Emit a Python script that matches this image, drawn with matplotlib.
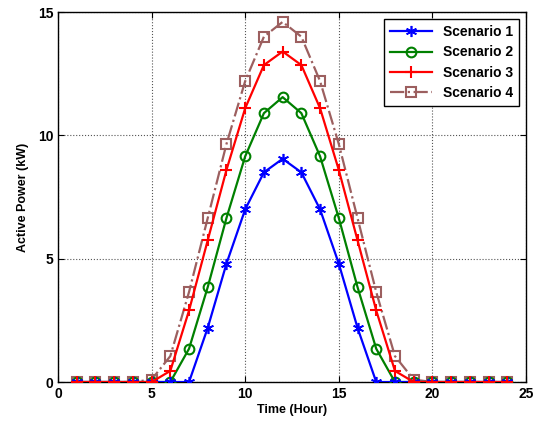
import matplotlib
matplotlib.use("Agg")
import matplotlib.pyplot as plt

hours = list(range(1, 25))
s1 = [0, 0, 0, 0, 0, 0, 0, 2.2, 4.8, 7.0, 8.5, 9.05, 8.5, 7.0, 4.8, 2.2, 0, 0, 0, 0, 0, 0, 0, 0]
s2 = [0, 0, 0, 0, 0, 0, 1.35, 3.85, 6.65, 9.15, 10.9, 11.55, 10.9, 9.15, 6.65, 3.85, 1.35, 0, 0, 0, 0, 0, 0, 0]
s3 = [0, 0, 0, 0, 0, 0.45, 2.9, 5.75, 8.6, 11.1, 12.85, 13.4, 12.85, 11.1, 8.6, 5.75, 2.9, 0.45, 0, 0, 0, 0, 0, 0]
s4 = [0, 0, 0, 0, 0.1, 1.05, 3.65, 6.65, 9.65, 12.2, 14.0, 14.6, 14.0, 12.2, 9.65, 6.65, 3.65, 1.05, 0.1, 0, 0, 0, 0, 0]
labels = ["Scenario 1", "Scenario 2", "Scenario 3", "Scenario 4"]

plt.rcParams['font.family'] = ['Liberation Sans', 'DejaVu Sans']
plt.rcParams['font.weight'] = 'bold'

fig = plt.figure(figsize=(5.34, 4.24), dpi=100)
ax = fig.add_axes([0.1086, 0.099, 0.8764, 0.8726])

brown = '#9c5f5f'
ax.plot(hours, s1, color='blue', lw=1.6, marker=(6, 2, 0), ms=8, mew=1.2, label=labels[0], zorder=4)
ax.plot(hours, s2, color='green', lw=1.6, marker='o', ms=7, mfc='none', mew=1.5, label=labels[1], zorder=3)
ax.plot(hours, s3, color='red', lw=1.6, marker='+', ms=9, mew=1.5, label=labels[2], zorder=5)
ax.plot(hours, s4, color=brown, lw=1.6, ls='-.', marker='s', ms=7, mfc='none', mew=1.5, label=labels[3], zorder=2)

ax.set_xlim(0, 25)
ax.set_ylim(0, 15)
ax.set_xticks([0, 5, 10, 15, 20, 25])
ax.set_yticks([0, 5, 10, 15])
ax.grid(True, ls=':', color='#555555', lw=0.8)
ax.tick_params(direction='in', top=True, right=True, labelsize=10, length=4)
for t in ax.get_xticklabels() + ax.get_yticklabels():
    t.set_fontweight('bold')
for s in ax.spines.values():
    s.set_linewidth(1.0)
ax.set_xlabel('Time (Hour)', fontsize=9, fontweight='bold', labelpad=2)
ax.set_ylabel('Active Power (kW)', fontsize=9, fontweight='bold', labelpad=6)
leg = ax.legend(loc='upper right', fontsize=10, frameon=True, fancybox=False,
                edgecolor='black', framealpha=1, handlelength=3.0,
                borderaxespad=0.5, labelspacing=0.45, borderpad=0.45)
leg.get_frame().set_linewidth(1.0)
for t in leg.get_texts():
    t.set_fontweight('bold')

fig.savefig('out.png', dpi=100)
